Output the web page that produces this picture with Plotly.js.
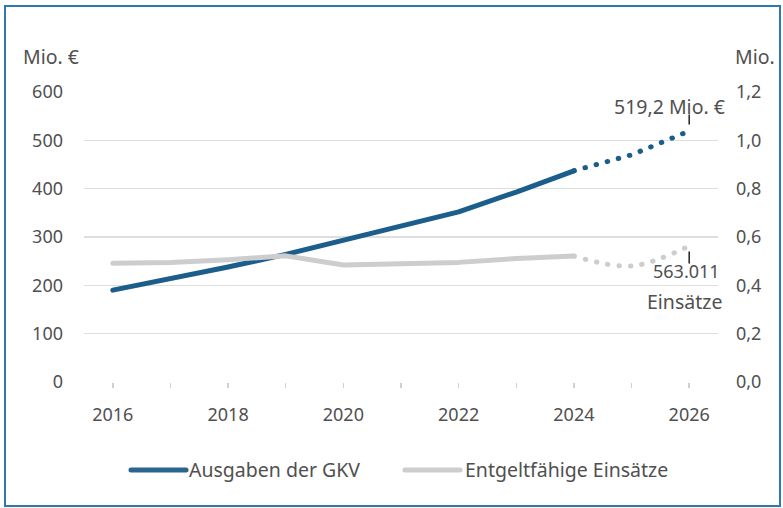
<!DOCTYPE html>
<html><head><meta charset="utf-8">
<script src="https://cdn.plot.ly/plotly-3.0.1.min.js"></script>
<style>
html,body{margin:0;padding:0;background:#fff;}
#wrap{position:relative;width:783px;height:508px;}
#chart{width:783px;height:508px;}
#frame{position:absolute;left:4px;top:5px;width:777px;height:502px;box-sizing:border-box;border:2.5px solid #2d7ab0;pointer-events:none;}
.js-line{stroke-linecap:round;stroke-linejoin:round;}
.shapelayer path{stroke-linecap:round;}
</style></head>
<body>
<div id="wrap"><div id="chart"></div><div id="frame"></div></div>
<script>
const years = [2016, 2017, 2018, 2019, 2020, 2021, 2022, 2023, 2024];
const gkvSpend = [190, 213, 238, 264, 293, 322, 352, 393, 437];
const forecastYears = [2024, 2025, 2026];
const gkvForecast = [437, 470, 519.2];
const billableOps = [0.491, 0.495, 0.506, 0.522, 0.484, 0.488, 0.495, 0.511, 0.521];
const opsForecast = [0.521, 0.480, 0.563];
const xTicks = [2016, 2018, 2020, 2022, 2024, 2026];
const leftTicks = [0, 100, 200, 300, 400, 500, 600];
const rightTicks = [0, 0.2, 0.4, 0.6, 0.8, 1.0, 1.2];
const seriesNames = ['Ausgaben der GKV', 'Entgeltfähige Einsätze'];
const gkvLabel = '519,2 Mio. €';
const opsLabel = ['563.011', 'Einsätze'];

const BLUE = '#1b5e8b', BLUE_LEG = '#2a6590', GREY = '#cdcdcd', TXT = '#505050';
const FONT = '"Noto Sans", "DejaVu Sans", sans-serif';
const TICK = {family: FONT, size: 18, color: TXT};
const LBL = {family: FONT, size: 19.5, color: TXT};
const dotted = '0.5px,11px';

const traces = [
  {x: years, y: billableOps, yaxis: 'y2', type: 'scatter', mode: 'lines', name: seriesNames[1],
   line: {color: GREY, width: 5}},
  {x: forecastYears, y: opsForecast, yaxis: 'y2', type: 'scatter', mode: 'lines', name: seriesNames[1],
   line: {color: GREY, width: 5, dash: dotted, shape: 'spline'}},
  {x: years, y: gkvSpend, type: 'scatter', mode: 'lines', name: seriesNames[0],
   line: {color: BLUE, width: 5}},
  {x: forecastYears, y: gkvForecast, type: 'scatter', mode: 'lines', name: seriesNames[0],
   line: {color: BLUE, width: 5, dash: dotted}}
];

// legend drawn by hand (long line samples like the original)
const legY = -0.3034;
const legendShapes = [
  {type: 'line', xref: 'paper', yref: 'paper', x0: 0.0741, x1: 0.1609, y0: legY, y1: legY, line: {color: BLUE_LEG, width: 5}},
  {type: 'line', xref: 'paper', yref: 'paper', x0: 0.5063, x1: 0.5931, y0: legY, y1: legY, line: {color: GREY, width: 5}}
];
const legendTexts = [
  {text: seriesNames[0], xref: 'paper', yref: 'paper', x: 0.1625, y: legY, xanchor: 'left', yanchor: 'middle', showarrow: false, font: LBL},
  {text: seriesNames[1], xref: 'paper', yref: 'paper', x: 0.5978, y: legY, xanchor: 'left', yanchor: 'middle', showarrow: false, font: LBL}
];

const layout = {
  width: 783, height: 508,
  margin: {l: 84, r: 65, t: 92, b: 126, pad: 0},
  paper_bgcolor: '#fff', plot_bgcolor: '#fff',
  separators: ',.',
  font: {family: FONT, size: 18, color: TXT},
  showlegend: false,
  xaxis: {range: [2015.5, 2026.5], tickvals: xTicks, ticks: 'outside', ticklen: 5, tickwidth: 1.5,
          tickcolor: '#d0d0d0', showgrid: false, zeroline: false, showline: false,
          ticklabelstandoff: 11,
          minor: {dtick: 1, tick0: 2016, ticks: 'outside', ticklen: 5, tickwidth: 1.5, tickcolor: '#d0d0d0', showgrid: false},
          tickfont: TICK},
  yaxis: {range: [0, 600], tickvals: leftTicks, showgrid: true, gridcolor: '#dedede', gridwidth: 1.5,
          zeroline: false, showline: false, ticks: '', ticklabelstandoff: 20, tickfont: TICK},
  yaxis2: {range: [0, 1.2], tickvals: rightTicks, tickformat: '.1f', overlaying: 'y', side: 'right',
           showgrid: false, zeroline: false, showline: false, ticks: '', ticklabelstandoff: 17, tickfont: TICK},
  annotations: [
    {text: 'Mio. €', xref: 'paper', yref: 'paper', x: -0.1, y: 1.1207, xanchor: 'left', yanchor: 'middle', showarrow: false, font: LBL},
    {text: 'Mio.', xref: 'paper', yref: 'paper', x: 1.0235, y: 1.1207, xanchor: 'left', yanchor: 'middle', showarrow: false, font: LBL},
    {text: gkvLabel, xref: 'x', yref: 'y', x: forecastYears[2], y: gkvForecast[2], xanchor: 'right', yanchor: 'middle',
     xshift: 38, yshift: 25, showarrow: false, font: LBL},
    {text: opsLabel[0], xref: 'x', yref: 'y2', x: forecastYears[2], y: opsForecast[2], xanchor: 'right', yanchor: 'middle',
     xshift: 33, yshift: -25, showarrow: false, font: TICK},
    {text: opsLabel[1], xref: 'x', yref: 'y2', x: forecastYears[2], y: opsForecast[2], xanchor: 'right', yanchor: 'middle',
     xshift: 35, yshift: -56, showarrow: false, font: LBL}
  ].concat(legendTexts),
  shapes: [
    {type: 'line', xref: 'x', yref: 'y', ysizemode: 'pixel', yanchor: gkvForecast[2], x0: forecastYears[2], x1: forecastYears[2],
     y0: 7, y1: 16, line: {color: '#222', width: 1.5}},
    {type: 'line', xref: 'x', yref: 'y2', ysizemode: 'pixel', yanchor: opsForecast[2], x0: forecastYears[2], x1: forecastYears[2],
     y0: -6, y1: -17, line: {color: '#222', width: 1.5}}
  ].concat(legendShapes),
  hovermode: false
};

Plotly.newPlot('chart', traces, layout, {displayModeBar: false, staticPlot: true});
</script>
</body></html>
